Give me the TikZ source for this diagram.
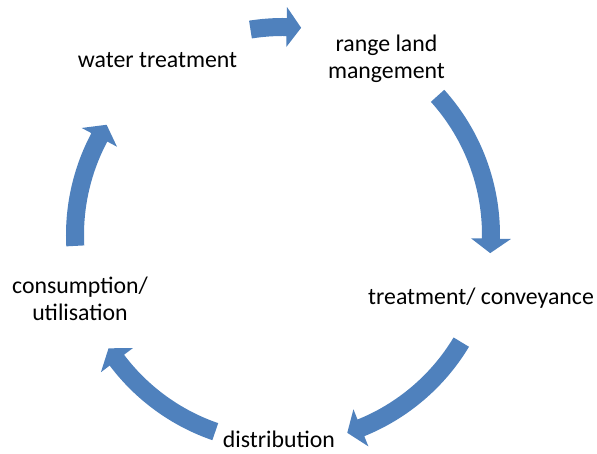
\documentclass[tikz,border=0pt]{standalone}
\usepackage{fontspec}
\setmainfont{Carlito}
\definecolor{arrowblue}{HTML}{4F81BD}

% radii of the ring of curved block arrows (pt)
\def\cycR{208}
\def\cycRout{217}
\def\cycRin{199}
\def\cycHout{228}
\def\cycHin{188}
\def\cycHeadAng{4}

% curved block arrow running clockwise from angle #1 to its tip at angle #2
\newcommand{\cycarrow}[2]{%
  \pgfmathsetmacro{\cychb}{#2+\cycHeadAng}%
  \fill[cyclearrow] (#1:\cycRout)
    arc[start angle=#1, end angle=\cychb, radius=\cycRout]
    -- (\cychb:\cycHout) -- (#2:\cycR) -- (\cychb:\cycHin) -- (\cychb:\cycRin)
    arc[start angle=\cychb, end angle=#1, radius=\cycRin] -- cycle;
}

\tikzset{
  cyclearrow/.style={fill=arrowblue, draw=none},
  steplabel/.style={font=\fontsize{23.8}{27}\selectfont, text=black,
    inner sep=0pt, align=center, anchor=base},
}

\begin{document}
\begin{tikzpicture}[x=1pt, y=1pt]
  \useasboundingbox (-283,-219) rectangle (314,235);

  % the five arrows of the cycle
  \cycarrow{99}{85}
  \cycarrow{42}{-5}
  \cycarrow{-31}{-72}
  \cycarrow{-109}{-147}
  \cycarrow{183}{148}

  % stage labels (base anchor sits on the last line)
  \node[steplabel] (water) at (-125.5,167) {water treatment};
  \node[steplabel] (range) at (103.5,156) {range land\\mangement};
  \node[steplabel] (treat) at (198,-70) {treatment/ conveyance};
  \node[steplabel] (dist) at (-4,-213) {distribution};
  \node[steplabel] (cons) at (-203,-86) {consumption/\\utilisation};
\end{tikzpicture}
\end{document}
